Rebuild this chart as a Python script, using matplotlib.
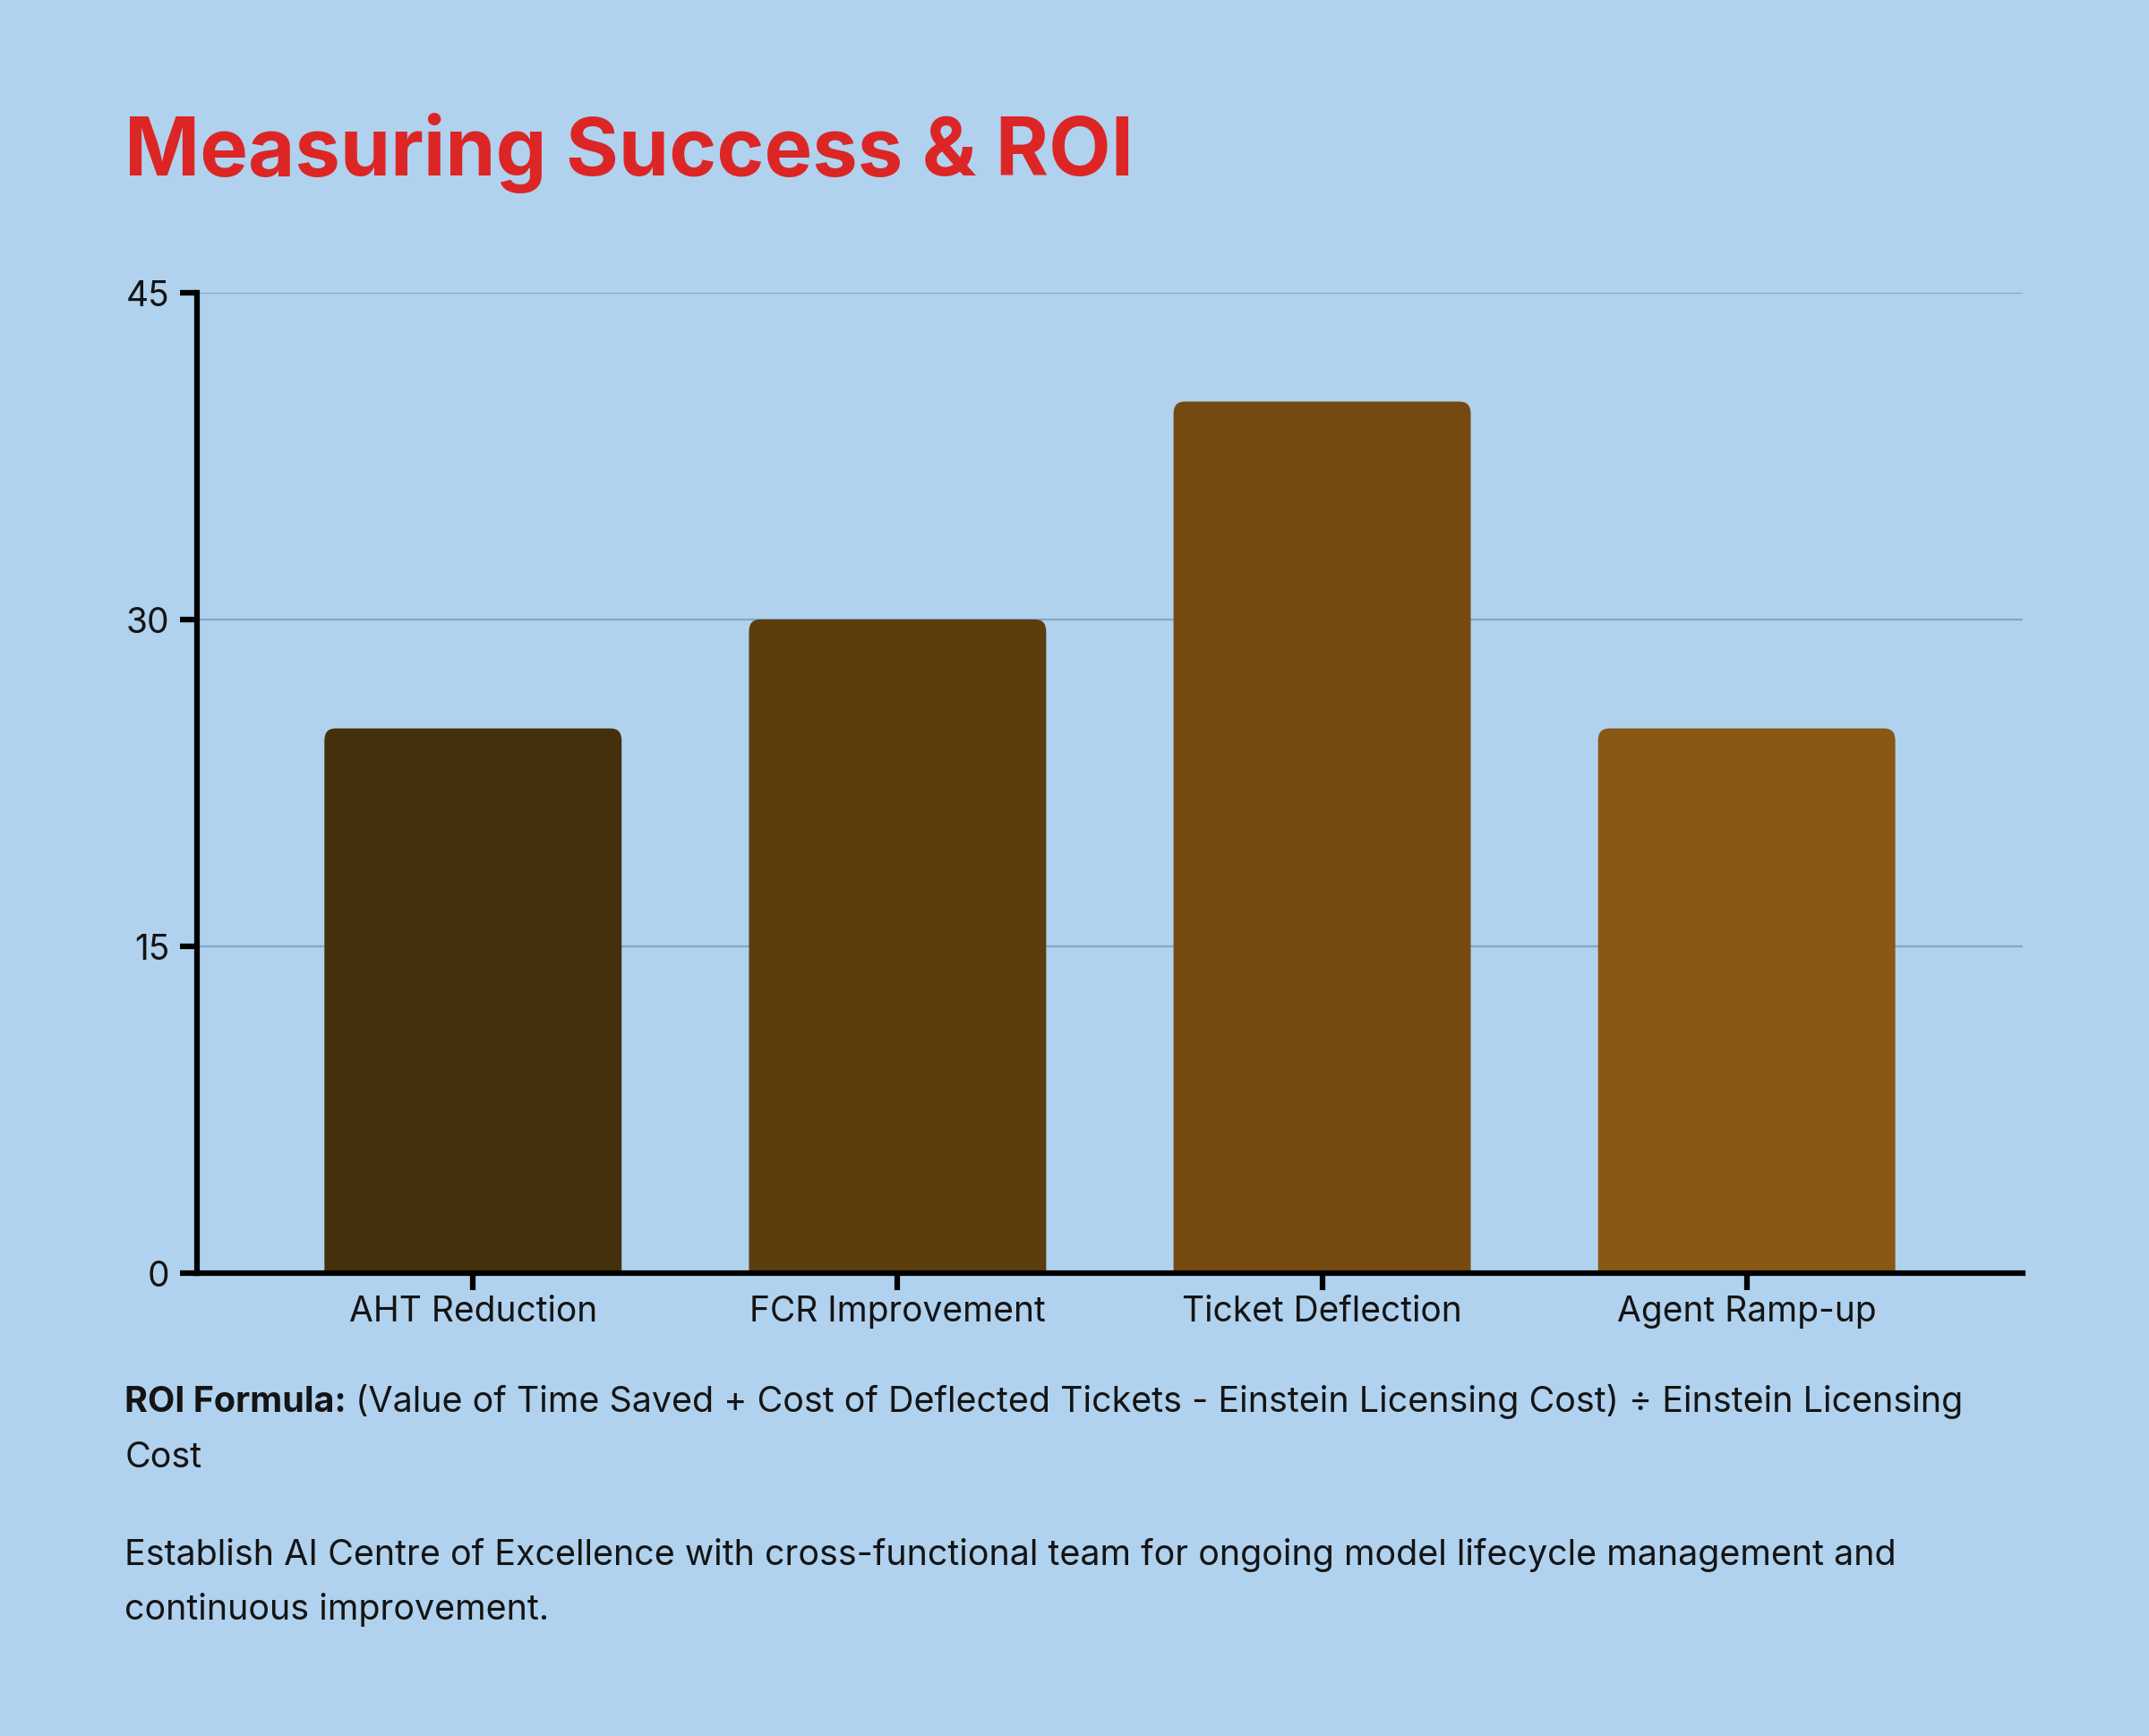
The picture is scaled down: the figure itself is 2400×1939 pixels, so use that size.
import numpy as np
import matplotlib
matplotlib.use("Agg")
import matplotlib.pyplot as plt
from matplotlib.path import Path
from matplotlib.patches import PathPatch

plt.rcParams['font.family'] = ['Inter', 'DejaVu Sans']

# data
categories = ['AHT Reduction', 'FCR Improvement', 'Ticket Deflection', 'Agent Ramp-up']
values = [25, 30, 40, 25]
bar_colors = ['#44300b', '#5b3d0e', '#744a10', '#895813']
yticks = [0, 15, 30, 45]

bg = '#b0d2ee'
text_col = '#141414'

fig = plt.figure(figsize=(24, 19.4), dpi=100, facecolor=bg)
ax = fig.add_axes([0.0917, 0.2665, 0.8495, 0.5645])
ax.set_facecolor(bg)

x = np.arange(len(categories))
bars = ax.bar(x, values, width=0.7, color=bar_colors, zorder=3)
ax.set_xlim(-0.65, 3.65)
ax.set_ylim(0, 45)


def rounded_top(x0, y0, w, h, rx, ry):
    verts = [(x0, y0), (x0, y0 + h - ry), (x0, y0 + h), (x0 + rx, y0 + h),
             (x0 + w - rx, y0 + h), (x0 + w, y0 + h), (x0 + w, y0 + h - ry),
             (x0 + w, y0), (x0, y0)]
    codes = [Path.MOVETO, Path.LINETO, Path.CURVE3, Path.CURVE3,
             Path.LINETO, Path.CURVE3, Path.CURVE3, Path.LINETO, Path.CLOSEPOLY]
    return Path(verts, codes)


# swap plain rectangles for ones with rounded top corners
for rect, c in zip(bars, bar_colors):
    rect.set_visible(False)
    p = rounded_top(rect.get_x(), rect.get_y(), rect.get_width(), rect.get_height(), 0.026, 0.55)
    ax.add_patch(PathPatch(p, facecolor=c, edgecolor='none', zorder=3))

ax.set_yticks(yticks)
ax.set_xticks(x)
ax.set_xticklabels(categories)
ax.yaxis.grid(True, color='#86a6c4', linewidth=1.6, zorder=0)
ax.xaxis.grid(False)

for s in ['top', 'right']:
    ax.spines[s].set_visible(False)
for s in ['left', 'bottom']:
    ax.spines[s].set_linewidth(4.5)
    ax.spines[s].set_color('#000000')
    ax.spines[s].set_zorder(4)

ax.tick_params(axis='both', length=14, width=4.5, color='#000000',
               labelsize=28, labelcolor=text_col)
ax.tick_params(axis='y', pad=8)
ax.tick_params(axis='x', pad=3)

# title
fig.text(0.058, 0.899, 'Measuring Success & ROI', fontsize=65, fontweight='bold',
         color='#dc2626', va='baseline', ha='left')

# footnotes
fig.canvas.draw()
r = fig.canvas.get_renderer()
fs = 28.4
bold = fig.text(0.058, 0.187, 'ROI Formula:', fontsize=fs, fontweight='bold',
                color=text_col, va='baseline', ha='left')
bb = bold.get_window_extent(renderer=r)
x_next = (bb.x1 + 10) / fig.bbox.width
fig.text(x_next, 0.187,
         '(Value of Time Saved + Cost of Deflected Tickets - Einstein Licensing Cost) \u00f7 Einstein Licensing',
         fontsize=fs, color=text_col, va='baseline', ha='left')
fig.text(0.058, 0.155, 'Cost', fontsize=fs, color=text_col, va='baseline', ha='left')
fig.text(0.058, 0.099,
         'Establish AI Centre of Excellence with cross-functional team for ongoing model lifecycle management and',
         fontsize=fs, color=text_col, va='baseline', ha='left')
fig.text(0.058, 0.0675, 'continuous improvement.', fontsize=fs, color=text_col,
         va='baseline', ha='left')

fig.savefig('out.png', dpi=100, facecolor=bg)
